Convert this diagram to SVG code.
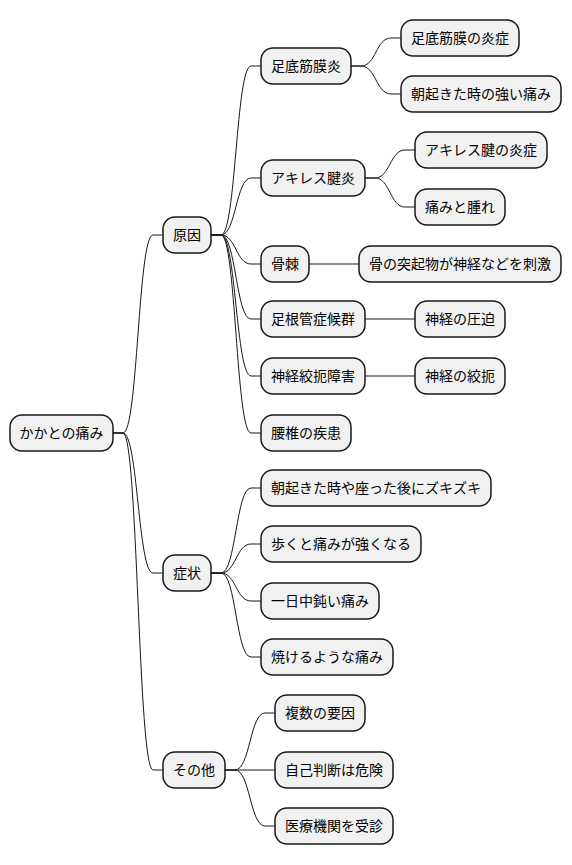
<svg xmlns="http://www.w3.org/2000/svg" width="572" height="865" viewBox="0 0 572 865">
<style>
.n rect{fill:#F1F1F1;stroke:#181818;stroke-width:1.5}
.n text{font-family:"Noto Sans CJK JP","Noto Sans",sans-serif;font-size:14px;fill:#000;text-anchor:middle}
#edges path{fill:none;stroke:#181818;stroke-width:1}
</style>
<rect width="572" height="865" fill="#fff"/>
<g id="edges">
<path d="M113 433 L123 433 C138 433 138 235 153 235 L163 235"/>
<path d="M113 433 L123 433 C138 433 138 573 153 573 L163 573"/>
<path d="M113 433 L123 433 C138 433 138 770 153 770 L163 770"/>
<path d="M211 235 L221 235 C236 235 236 66 251 66 L261 66"/>
<path d="M211 235 L221 235 C236 235 236 178 251 178 L261 178"/>
<path d="M211 235 L221 235 C236 235 236 264 251 264 L261 264"/>
<path d="M211 235 L221 235 C236 235 236 319 251 319 L261 319"/>
<path d="M211 235 L221 235 C236 235 236 376 251 376 L261 376"/>
<path d="M211 235 L221 235 C236 235 236 433 251 433 L261 433"/>
<path d="M351 66 L361 66 C376 66 376 38 391 38 L401 38"/>
<path d="M351 66 L361 66 C376 66 376 94 391 94 L401 94"/>
<path d="M365 178 L375 178 C390 178 390 150 405 150 L415 150"/>
<path d="M365 178 L375 178 C390 178 390 207 405 207 L415 207"/>
<path d="M309 264 L359 264"/>
<path d="M365 319 L415 319"/>
<path d="M365 376 L415 376"/>
<path d="M211 573 L221 573 C236 573 236 488 251 488 L261 488"/>
<path d="M211 573 L221 573 C236 573 236 544 251 544 L261 544"/>
<path d="M211 573 L221 573 C236 573 236 601 251 601 L261 601"/>
<path d="M211 573 L221 573 C236 573 236 657 251 657 L261 657"/>
<path d="M225 770 L235 770 C250 770 250 713 265 713 L275 713"/>
<path d="M225 770 L275 770"/>
<path d="M225 770 L235 770 C250 770 250 826 265 826 L275 826"/>
</g>
<g id="root" class="n"><rect x="10" y="415" width="103" height="36" rx="12"/><text x="61.5" y="438">かかとの痛み</text></g>
<g id="cause" class="n"><rect x="163" y="217" width="48" height="36" rx="12"/><text x="187" y="240">原因</text></g>
<g id="symptom" class="n"><rect x="163" y="555" width="48" height="36" rx="12"/><text x="187" y="578">症状</text></g>
<g id="other" class="n"><rect x="163" y="752" width="62" height="36" rx="12"/><text x="194" y="775">その他</text></g>
<g id="c1" class="n"><rect x="261" y="48" width="90" height="36" rx="12"/><text x="306" y="71">足底筋膜炎</text></g>
<g id="c2" class="n"><rect x="261" y="160" width="104" height="36" rx="12"/><text x="313" y="183">アキレス腱炎</text></g>
<g id="c3" class="n"><rect x="261" y="246" width="48" height="36" rx="12"/><text x="285" y="269">骨棘</text></g>
<g id="c4" class="n"><rect x="261" y="301" width="104" height="36" rx="12"/><text x="313" y="324">足根管症候群</text></g>
<g id="c5" class="n"><rect x="261" y="358" width="104" height="36" rx="12"/><text x="313" y="381">神経絞扼障害</text></g>
<g id="c6" class="n"><rect x="261" y="415" width="90" height="36" rx="12"/><text x="306" y="438">腰椎の疾患</text></g>
<g id="c1a" class="n"><rect x="401" y="20" width="118" height="36" rx="12"/><text x="460" y="43">足底筋膜の炎症</text></g>
<g id="c1b" class="n"><rect x="401" y="76" width="160" height="36" rx="12"/><text x="481" y="99">朝起きた時の強い痛み</text></g>
<g id="c2a" class="n"><rect x="415" y="132" width="132" height="36" rx="12"/><text x="481" y="155">アキレス腱の炎症</text></g>
<g id="c2b" class="n"><rect x="415" y="189" width="90" height="36" rx="12"/><text x="460" y="212">痛みと腫れ</text></g>
<g id="c3a" class="n"><rect x="359" y="246" width="202" height="36" rx="12"/><text x="460" y="269">骨の突起物が神経などを刺激</text></g>
<g id="c4a" class="n"><rect x="415" y="301" width="90" height="36" rx="12"/><text x="460" y="324">神経の圧迫</text></g>
<g id="c5a" class="n"><rect x="415" y="358" width="90" height="36" rx="12"/><text x="460" y="381">神経の絞扼</text></g>
<g id="s1" class="n"><rect x="261" y="470" width="230" height="36" rx="12"/><text x="376" y="493">朝起きた時や座った後にズキズキ</text></g>
<g id="s2" class="n"><rect x="261" y="526" width="160" height="36" rx="12"/><text x="341" y="549">歩くと痛みが強くなる</text></g>
<g id="s3" class="n"><rect x="261" y="583" width="118" height="36" rx="12"/><text x="320" y="606">一日中鈍い痛み</text></g>
<g id="s4" class="n"><rect x="261" y="639" width="132" height="36" rx="12"/><text x="327" y="662">焼けるような痛み</text></g>
<g id="o1" class="n"><rect x="275" y="695" width="90" height="36" rx="12"/><text x="320" y="718">複数の要因</text></g>
<g id="o2" class="n"><rect x="275" y="752" width="118" height="36" rx="12"/><text x="334" y="775">自己判断は危険</text></g>
<g id="o3" class="n"><rect x="275" y="808" width="118" height="36" rx="12"/><text x="334" y="831">医療機関を受診</text></g>
</svg>
